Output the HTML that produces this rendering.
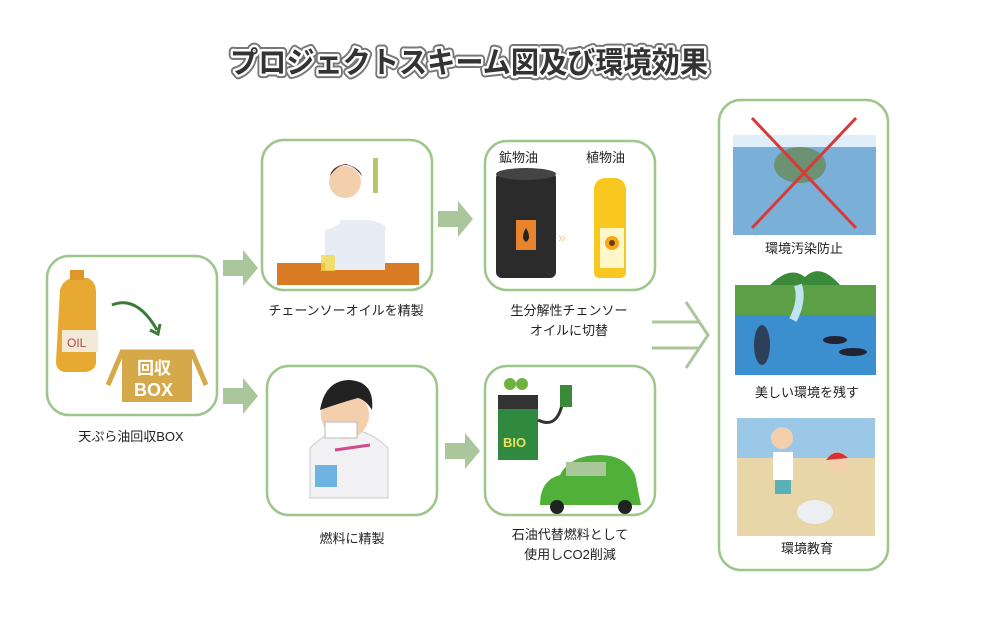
<!DOCTYPE html>
<html><head><meta charset="utf-8">
<style>
html,body{margin:0;padding:0;background:#fff;}
svg{display:block;}
text{font-family:"Liberation Sans","Noto Sans CJK JP",sans-serif;}
</style></head>
<body>
<svg width="993" height="626" viewBox="0 0 993 626" xmlns="http://www.w3.org/2000/svg">
<rect width="993" height="626" fill="#fff"/>
<!-- title -->
<g font-size="30" font-weight="bold">
<text x="230" y="73" textLength="478" lengthAdjust="spacingAndGlyphs" fill="none" stroke="#777" stroke-width="9" stroke-linejoin="round">プロジェクトスキーム図及び環境効果</text>
<text x="230" y="73" textLength="478" lengthAdjust="spacingAndGlyphs" fill="none" stroke="#fff" stroke-width="5" stroke-linejoin="round">プロジェクトスキーム図及び環境効果</text>
<text x="230" y="73" textLength="478" lengthAdjust="spacingAndGlyphs" fill="#333">プロジェクトスキーム図及び環境効果</text>
</g>

<g fill="none" stroke="#9cc68a" stroke-width="2.5">
<rect x="47" y="256" width="170" height="159" rx="22"/>
<rect x="262" y="140" width="170" height="150" rx="22"/>
<rect x="267" y="366" width="170" height="149" rx="22"/>
<rect x="485" y="141" width="170" height="149" rx="22"/>
<rect x="485" y="366" width="170" height="149" rx="22"/>
<rect x="719" y="100" width="169" height="470" rx="22"/>
</g>

<!-- block arrows -->
<g fill="#a9c79a">
<path d="M223 260h20v-10l15 18-15 18v-10h-20z"/>
<path d="M223 388h20v-10l15 18-15 18v-10h-20z"/>
<path d="M438 211h20v-10l15 18-15 18v-10h-20z"/>
<path d="M445 443h20v-10l15 18-15 18v-10h-20z"/>
</g>
<!-- double arrow -->
<g stroke="#a9c79a" stroke-width="3" fill="none">
<line x1="652" y1="322" x2="700" y2="322"/>
<line x1="652" y1="348" x2="700" y2="348"/>
<path d="M686 302 L708 335 L686 368"/>
</g>

<!-- box 1 illustration -->
<path d="M60 290 q3-10 12-12 l16 0 q8 4 8 14 v70 q0 8-10 10 l-22 0 q-8-2-8-10z" fill="#e8a932"/>
<rect x="70" y="270" width="14" height="10" fill="#e0962a"/>
<rect x="62" y="330" width="36" height="22" fill="#f4e8d8"/>
<text x="67" y="347" font-size="12" fill="#b04a40">OIL</text>
<path d="M112 305 q25 -10 45 25" stroke="#3d7a3a" stroke-width="3" fill="none"/>
<path d="M150 330 l8 4 l2-10" stroke="#3d7a3a" stroke-width="3" fill="none"/>
<rect x="122" y="352" width="70" height="50" fill="#d5a94a"/>
<path d="M108 385 l14-33 h70 l14 33" fill="none" stroke="#d5a94a" stroke-width="5"/>
<text x="137" y="374" font-size="17" font-weight="bold" fill="#fff">回収</text>
<text x="134" y="396" font-size="18" font-weight="bold" fill="#fff">BOX</text>

<!-- box 2: scientist woman -->
<rect x="277" y="263" width="142" height="22" fill="#d97a24"/>
<path d="M315 270 h10 v-40 q18-5 15-10 h30 q20 5 15 10 v40z" fill="#e8ecf4"/>
<circle cx="345" cy="182" r="16" fill="#f4cfae"/>
<path d="M330 176 q15-22 32 0 q-2-8-16-12 q-14 2-16 12" fill="#5a3420"/>
<rect x="321" y="255" width="14" height="16" fill="#f1d84e" opacity="0.8"/>
<rect x="373" y="158" width="5" height="35" fill="#b7c86a"/>

<!-- box 3: scientist man -->
<path d="M310 498 v-50 q20-20 40-18 q20 0 38 18 v50z" fill="#f2f2f4" stroke="#c9c9d0"/>
<circle cx="345" cy="415" r="24" fill="#f4cfae"/>
<path d="M320 410 q5-30 30-30 q25 2 22 30 q-6-10-14-12 q-15 4-38 12" fill="#222"/>
<rect x="325" y="422" width="32" height="16" fill="#fff" stroke="#bbb"/>
<rect x="315" y="465" width="22" height="22" fill="#4aa3dd" opacity="0.8"/>
<path d="M335 450 l35-5" stroke="#d24a8a" stroke-width="3"/>

<!-- box 4: oils -->
<text x="499" y="162" font-size="13" fill="#222">鉱物油</text>
<text x="586" y="162" font-size="13" fill="#222">植物油</text>
<rect x="496" y="172" width="60" height="106" rx="6" fill="#2b2b2b"/>
<ellipse cx="526" cy="174" rx="30" ry="6" fill="#444"/>
<rect x="516" y="220" width="20" height="30" fill="#e8842c"/>
<path d="M526 228 q-6 10 0 14 q6-4 0-14" fill="#222"/>
<text x="558" y="242" font-size="14" fill="#f0c890">»</text>
<path d="M594 190 q0-10 10-12 h12 q10 2 10 12 v82 q0 6-6 6 h-20 q-6 0-6-6z" fill="#f8c820"/>
<rect x="600" y="228" width="24" height="40" fill="#fff7c8"/>
<circle cx="612" cy="243" r="7" fill="#f3a913"/>
<circle cx="612" cy="243" r="3" fill="#6b3d12"/>

<!-- box 5: bio fuel -->
<rect x="498" y="405" width="40" height="55" fill="#2f8a40"/>
<rect x="498" y="395" width="40" height="14" fill="#333"/>
<text x="503" y="447" font-size="13" font-weight="bold" fill="#e8e060">BIO</text>
<circle cx="510" cy="384" r="6" fill="#6fb23e"/><circle cx="522" cy="384" r="6" fill="#6fb23e"/>
<path d="M538 420 q20 10 25-20" stroke="#333" stroke-width="3" fill="none"/>
<rect x="560" y="385" width="12" height="22" fill="#3b8a3a"/>
<path d="M540 505 q0-25 20-30 q10-20 40-20 q25 0 35 20 l6 30z" fill="#4fb03a"/>
<rect x="566" y="462" width="40" height="14" fill="#a8c89a"/>
<circle cx="557" cy="507" r="7" fill="#222"/><circle cx="625" cy="507" r="7" fill="#222"/>

<!-- right images -->
<rect x="733" y="135" width="143" height="100" fill="#7ab0d8"/>
<rect x="733" y="135" width="143" height="12" fill="#dfeef8"/>
<ellipse cx="800" cy="165" rx="26" ry="18" fill="#6a8a5a" opacity="0.8"/>
<g stroke="#d83a3a" stroke-width="3"><line x1="752" y1="118" x2="856" y2="228"/><line x1="856" y1="118" x2="752" y2="228"/></g>
<path d="M770 285 q20-20 35-8 q15-15 35 8z" fill="#3b8a3a"/>
<rect x="735" y="285" width="141" height="90" fill="#3b8fcf"/>
<rect x="735" y="285" width="141" height="30" fill="#5ba047"/>
<path d="M798 285 q5 15 -5 35" stroke="#bfe4f0" stroke-width="8" fill="none"/>
<ellipse cx="762" cy="345" rx="8" ry="20" fill="#2e3f5a"/>
<ellipse cx="835" cy="340" rx="12" ry="4" fill="#223"/>
<ellipse cx="853" cy="352" rx="14" ry="4" fill="#223"/>
<rect x="737" y="418" width="138" height="118" fill="#e8d6a8"/>
<rect x="737" y="418" width="138" height="40" fill="#9cc8e8"/>
<circle cx="782" cy="438" r="11" fill="#f4cfae"/>
<rect x="773" y="452" width="20" height="28" fill="#fff"/>
<rect x="775" y="480" width="16" height="14" fill="#5bb0b8"/>
<circle cx="838" cy="462" r="10" fill="#f4cfae"/>
<path d="M826 460 q10-14 22-2" fill="#d83030"/>
<ellipse cx="815" cy="512" rx="18" ry="12" fill="#eceff2"/>

<!-- labels -->
<g font-size="13" fill="#222" text-anchor="middle">
<text x="131" y="441">天ぷら油回収BOX</text>
<text x="346" y="315">チェーンソーオイルを精製</text>
<text x="352" y="543">燃料に精製</text>
<text x="569" y="315">生分解性チェンソー</text>
<text x="569" y="335">オイルに切替</text>
<text x="570" y="539">石油代替燃料として</text>
<text x="570" y="559">使用しCO2削減</text>
<text x="804" y="253">環境汚染防止</text>
<text x="807" y="397">美しい環境を残す</text>
<text x="807" y="553">環境教育</text>
</g>
</svg>
</body></html>
